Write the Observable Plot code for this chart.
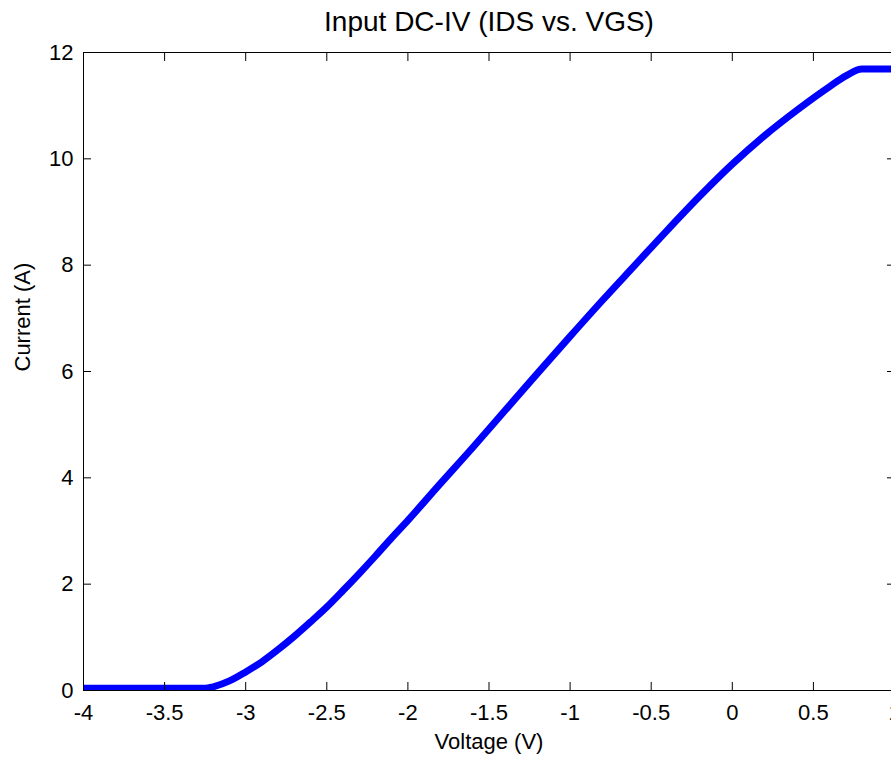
<!DOCTYPE html>
<html>
<head>
<meta charset="utf-8">
<script src="https://cdn.jsdelivr.net/npm/d3@7"></script>
<script src="https://cdn.jsdelivr.net/npm/@observablehq/plot@0.6"></script>
<style>
  html, body { margin: 0; padding: 0; background: #fff; }
  #chart svg { display: block; }
</style>
</head>
<body>
<div id="chart"></div>
<script>
const title = "Input DC-IV (IDS vs. VGS)";
const xLabel = "Voltage (V)";
const yLabel = "Current (A)";

const voltage = [-4, -3.5, -3.25, -3.2, -3.1, -3.0, -2.9, -2.8, -2.7, -2.6, -2.5, -2.4, -2.3, -2.2, -2.1, -2.0,
  -1.8, -1.6, -1.4, -1.2, -1.0, -0.8, -0.6, -0.4, -0.2, 0, 0.2, 0.4, 0.6, 0.7, 0.8, 0.85, 1.0];
const current = [0.04, 0.04, 0.04, 0.07, 0.18, 0.35, 0.54, 0.77, 1.02, 1.29, 1.57, 1.88, 2.2, 2.53, 2.87, 3.2,
  3.89, 4.57, 5.27, 5.97, 6.66, 7.34, 8.0, 8.66, 9.3, 9.9, 10.44, 10.92, 11.36, 11.56, 11.69, 11.69, 11.69];

const xTicks = [-4, -3.5, -3, -2.5, -2, -1.5, -1, -0.5, 0, 0.5, 1];
const xTickLabels = ["-4", "-3.5", "-3", "-2.5", "-2", "-1.5", "-1", "-0.5", "0", "0.5", "1"];
const yTicks = [0, 2, 4, 6, 8, 10, 12];
const yTickLabels = ["0", "2", "4", "6", "8", "10", "12"];

const data = voltage.map((v, i) => ({v, i: current[i]}));
const xFmt = d => xTickLabels[xTicks.indexOf(d)];
const yFmt = d => yTickLabels[yTicks.indexOf(d)];
const font = "'Liberation Sans', Arial, sans-serif";

const chart = Plot.plot({
  width: 891,
  height: 759,
  marginLeft: 83,
  marginRight: -3,
  marginTop: 52,
  marginBottom: 69,
  style: {fontFamily: font, fontSize: "22px", color: "#000", background: "#fff"},
  x: {domain: [-4, 1]},
  y: {domain: [0, 12]},
  marks: [
    Plot.line(data, {x: "v", y: "i", stroke: "#0000ff", strokeWidth: 7, curve: "monotone-x", clip: true}),
    Plot.frame({stroke: "#000", strokeWidth: 1}),
    Plot.axisX(xTicks, {anchor: "bottom", tickSize: -8, tickFormat: () => "", label: null, stroke: "#000"}),
    Plot.axisX(xTicks, {anchor: "top", tickSize: -8, tickFormat: () => "", label: null, stroke: "#000"}),
    Plot.axisY(yTicks, {anchor: "left", tickSize: -8, tickFormat: () => "", label: null, stroke: "#000"}),
    Plot.axisY(yTicks, {anchor: "right", tickSize: -8, tickFormat: () => "", label: null, stroke: "#000"}),
    Plot.axisX(xTicks, {anchor: "bottom", tickSize: 0, tickPadding: 14, tickFormat: xFmt, label: null, fontSize: 22, fill: "#000"}),
    Plot.axisY(yTicks, {anchor: "left", tickSize: 0, tickPadding: 10, tickFormat: yFmt, label: null, fontSize: 22, fill: "#000"}),
    Plot.text([title], {frameAnchor: "top", dy: -30, fontSize: 28, fill: "#000", lineAnchor: "middle"}),
    Plot.text([xLabel], {frameAnchor: "bottom", dy: 51, fontSize: 22, fill: "#000", lineAnchor: "middle"}),
    Plot.text([yLabel], {frameAnchor: "left", dx: -61, rotate: -90, fontSize: 22, fill: "#000", lineAnchor: "middle"})
  ]
});
document.getElementById("chart").appendChild(chart);
</script>
</body>
</html>
